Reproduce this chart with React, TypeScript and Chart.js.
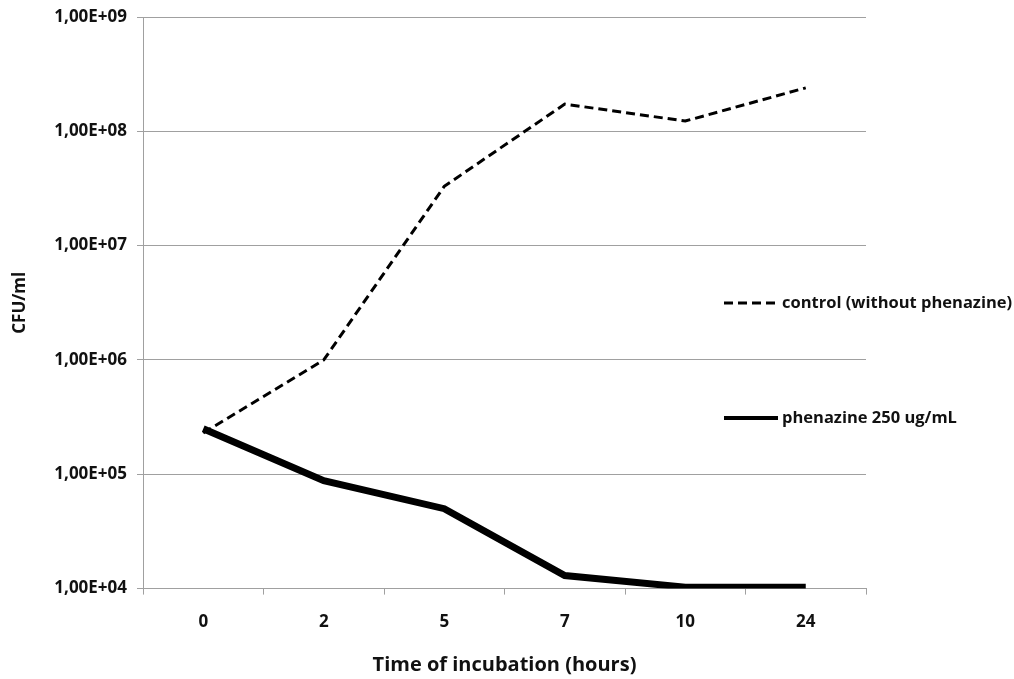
import React, { useEffect, useRef } from "react";
import { Chart, registerables } from "chart.js";

Chart.register(...registerables);

const categories = ["0", "2", "5", "7", "10", "24"];
const controlValues = [2.3e5, 1.0e6, 3.3e7, 1.73e8, 1.23e8, 2.4e8];
const phenazineValues = [2.5e5, 8.8e4, 5.0e4, 1.3e4, 1.03e4, 1.03e4];
const yTickValues = [1e4, 1e5, 1e6, 1e7, 1e8, 1e9];
const seriesLabels = ["control (without phenazine)", "phenazine 250 ug/mL"];

const FONT = "'Open Sans', Lato, sans-serif";

function fmt(v: number) {
  const e = Math.round(Math.log10(v));
  return "1,00E+" + (e < 10 ? "0" + e : String(e));
}

const legendPlugin = {
  id: "customLegend",
  afterDraw(chart: any) {
    const ctx = chart.ctx;
    const area = chart.chartArea;
    const x0 = area.right - 142;
    const ys = [area.top + 286, area.top + 401];
    chart.data.datasets.forEach((ds: any, i: number) => {
      ctx.save();
      ctx.strokeStyle = ds.borderColor;
      ctx.lineWidth = i === 0 ? 3 : 4;
      ctx.setLineDash(ds.borderDash || []);
      ctx.beginPath();
      ctx.moveTo(x0, ys[i]);
      ctx.lineTo(x0 + 54, ys[i]);
      ctx.stroke();
      ctx.setLineDash([]);
      ctx.fillStyle = "#111";
      ctx.font = "bold 16.5px " + FONT;
      ctx.textBaseline = "middle";
      ctx.textAlign = "left";
      ctx.fillText(ds.label, x0 + 58, ys[i]);
      ctx.restore();
    });
  },
};

export default function App() {
  const ref = useRef<HTMLCanvasElement>(null);
  useEffect(() => {
    document.body.style.margin = "0";
    const chart = new Chart(ref.current!, {
      type: "line",
      data: {
        labels: categories,
        datasets: [
          {
            label: seriesLabels[0],
            data: controlValues,
            borderColor: "#000",
            borderWidth: 3,
            borderDash: [9, 5],
            pointRadius: 0,
            tension: 0,
            fill: false,
          },
          {
            label: seriesLabels[1],
            data: phenazineValues,
            borderColor: "#000",
            borderWidth: 7,
            pointRadius: 0,
            tension: 0,
            fill: false,
          },
        ],
      },
      options: {
        animation: false,
        responsive: false,
        layout: { padding: { top: 17, right: 148, left: 0, bottom: 0 } },
        plugins: { legend: { display: false }, tooltip: { enabled: false } },
        scales: {
          x: {
            type: "category",
            offset: true,
            grid: {
              offset: true,
              drawOnChartArea: false,
              drawTicks: true,
              tickLength: 6,
              color: "#a0a0a0",
            },
            border: { display: true, color: "#a0a0a0" },
            ticks: {
              color: "#111",
              padding: 17,
              font: { family: FONT, size: 17, weight: "bold" },
            },
            title: {
              display: true,
              text: "Time of incubation (hours)",
              color: "#111",
              font: { family: FONT, size: 20, weight: "bold" },
              padding: { top: 4, bottom: 2 },
            },
          },
          y: {
            type: "logarithmic",
            min: 1e4,
            max: 1e9,
            afterBuildTicks(axis: any) {
              axis.ticks = yTickValues.map((v) => ({ value: v, major: true }));
            },
            afterFit(axis: any) {
              axis.width = 143;
              axis.paddingTop = 0;
              axis.paddingBottom = 0;
            },
            grid: {
              color: "#a0a0a0",
              drawTicks: true,
              tickLength: 6,
            },
            border: { display: true, color: "#a0a0a0" },
            ticks: {
              color: "#111",
              padding: 10,
              font: { family: FONT, size: 17, weight: "bold" },
              callback: (v: any) => fmt(Number(v)),
            },
            title: {
              display: true,
              text: "CFU/ml",
              color: "#111",
              font: { family: FONT, size: 17, weight: "bold" },
              padding: { top: 10, bottom: 0 },
            },
          },
        },
      } as any,
      plugins: [legendPlugin],
    });
    return () => chart.destroy();
  }, []);
  return (
    <div style={{ position: "fixed", left: 0, top: 0, width: 1014, height: 679, background: "#fff" }}>
      <canvas ref={ref} width={1014} height={679} style={{ width: 1014, height: 679 }} />
    </div>
  );
}
